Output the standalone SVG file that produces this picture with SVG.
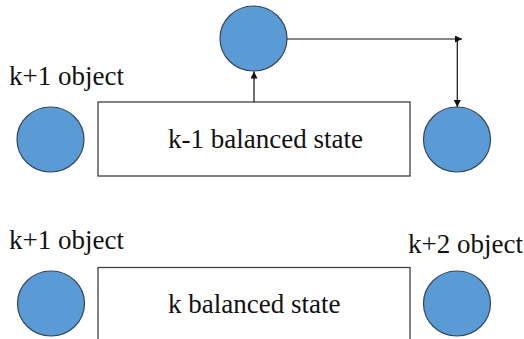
<svg xmlns="http://www.w3.org/2000/svg" width="524" height="339" viewBox="0 0 524 339">
  <style>
    .obj { fill: #5B9BD5; stroke: #34465A; stroke-width: 1.2; }
    .box { fill: #FFFFFF; stroke: #404040; stroke-width: 1.3; }
    .lbl { font-family: "Liberation Serif", "Times New Roman", serif; font-size: 27px; fill: #111111; }
    .wire { fill: none; stroke: #111111; stroke-width: 1.2; }
  </style>
  <defs>
    <marker id="tip" viewBox="0 0 10 10" refX="10" refY="5" markerWidth="8" markerHeight="7" markerUnits="userSpaceOnUse" orient="auto">
      <path d="M0,0 L10,5 L0,10 z" fill="#111111"/>
    </marker>
  </defs>
  <rect width="524" height="339" fill="#FFFFFF"/>

  <!-- upper row: k-1 balanced state -->
  <g id="label-k1-top"><text class="lbl" x="9" y="85">k+1 object</text></g>
  <g id="obj-left-top"><ellipse class="obj" cx="50.5" cy="139.5" rx="33.5" ry="32.5"/></g>
  <g id="state-k-1">
    <rect class="box" x="98" y="102" width="312" height="74"/>
    <text class="lbl" x="168" y="147.5">k-1 balanced state</text>
  </g>
  <g id="obj-lifted"><ellipse class="obj" cx="253.5" cy="38.5" rx="33.5" ry="32.5"/></g>
  <g id="obj-right-top"><ellipse class="obj" cx="457" cy="139.5" rx="33.5" ry="32.5"/></g>

  <!-- lower row: k balanced state -->
  <g id="label-k1-bottom"><text class="lbl" x="9" y="249">k+1 object</text></g>
  <g id="label-k2"><text class="lbl" x="408" y="253">k+2 object</text></g>
  <g id="obj-left-bottom"><ellipse class="obj" cx="51" cy="303.5" rx="33.5" ry="32.5"/></g>
  <g id="state-k">
    <rect class="box" x="98" y="267.5" width="312" height="80"/>
    <text class="lbl" x="168" y="312.5">k balanced state</text>
  </g>
  <g id="obj-right-bottom"><ellipse class="obj" cx="457" cy="303.5" rx="33.5" ry="32.5"/></g>

  <!-- connectors -->
  <g id="connectors">
    <line class="wire" x1="254" y1="102" x2="254" y2="71.5" marker-end="url(#tip)"/>
    <line class="wire" x1="287" y1="39" x2="462" y2="39" marker-end="url(#tip)"/>
    <line class="wire" x1="457.3" y1="39" x2="457.3" y2="107" marker-end="url(#tip)"/>
  </g>
</svg>
